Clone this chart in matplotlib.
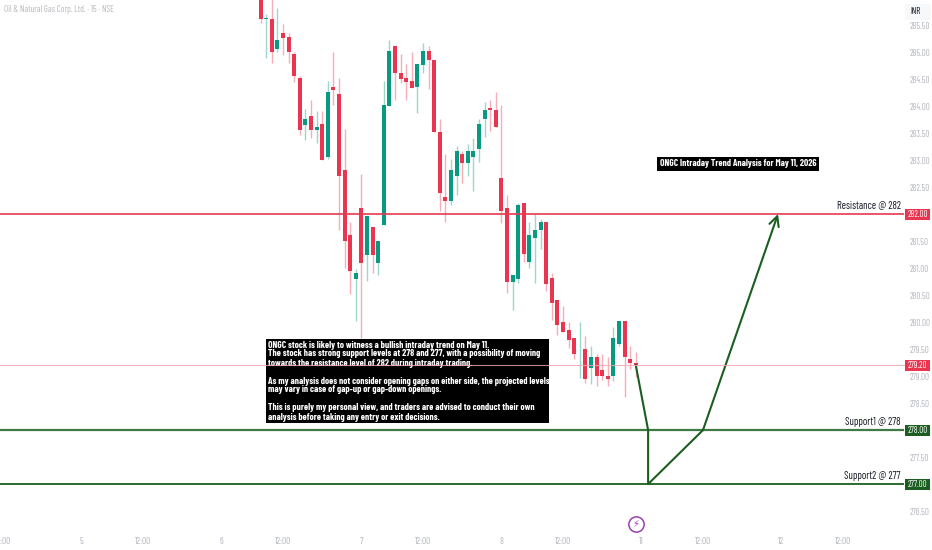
import matplotlib
matplotlib.use("Agg")
import matplotlib.pyplot as plt
from matplotlib.patches import Rectangle

plt.rcParams['font.family'] = ['Barlow Condensed', 'Roboto', 'DejaVu Sans']

opens = [286.08, 285.61, 285.62, 285.05, 285.36, 285.27, 284.97, 284.51, 283.65, 283.81,
         283.56, 283.66, 283.05, 284.36, 284.22, 282.81, 281.61, 280.80, 282.11, 281.25,
         281.76, 281.10, 281.80, 284.00, 285.11, 284.61, 284.51, 284.47, 284.35, 284.76,
         285.02, 284.86, 283.52, 282.31, 282.24, 282.71, 283.11, 282.95, 283.06, 283.21,
         283.76, 283.96, 283.92, 282.66, 282.11, 280.75, 280.80, 282.21, 281.11, 281.55,
         281.71, 281.86, 280.81, 280.40, 280.01, 279.86, 279.71, 279.46, 279.51, 279.15,
         279.36, 279.11, 279.01, 279.00, 279.60, 280.02, 279.31, 279.25]
closes = [285.62, 285.63, 285.00, 285.22, 285.26, 285.00, 284.56, 283.55, 283.76, 283.55,
          283.61, 283.00, 284.26, 284.30, 282.71, 281.50, 280.95, 280.91, 281.10, 281.96,
          281.25, 281.50, 284.01, 285.02, 284.61, 284.50, 284.45, 284.34, 284.77, 285.02,
          284.85, 283.51, 282.39, 282.24, 282.81, 283.16, 282.95, 283.17, 283.17, 283.66,
          283.92, 283.92, 283.61, 282.06, 280.75, 280.87, 282.17, 281.26, 281.61, 281.71,
          281.86, 280.71, 280.36, 279.95, 279.81, 279.66, 279.40, 279.47, 278.95, 279.36,
          279.00, 279.00, 278.95, 279.71, 280.02, 279.36, 279.25, 279.20]
highs = [286.40, 285.71, 286.10, 285.81, 285.52, 285.36, 285.00, 284.55, 283.95, 284.11,
         283.90, 283.90, 284.47, 285.00, 284.51, 283.57, 281.86, 280.99, 282.75, 281.96,
         281.76, 281.50, 284.46, 285.22, 285.11, 284.96, 284.77, 285.00, 284.77, 285.17,
         285.11, 284.86, 283.76, 283.11, 283.01, 283.26, 283.17, 283.30, 283.40, 283.76,
         284.07, 284.11, 284.26, 284.02, 282.36, 280.87, 282.20, 282.21, 281.86, 282.00,
         281.90, 281.86, 280.90, 280.40, 280.30, 280.01, 279.71, 280.01, 279.75, 279.55,
         279.41, 279.40, 279.36, 279.90, 280.02, 280.02, 279.56, 279.45]
lows = [285.53, 284.88, 284.79, 285.00, 284.94, 284.79, 284.44, 283.46, 283.38, 283.41,
        283.32, 283.00, 283.01, 284.02, 281.71, 281.00, 280.52, 280.02, 279.71, 280.76,
        280.91, 280.87, 281.80, 284.00, 284.11, 284.43, 284.11, 284.34, 283.87, 284.61,
        284.32, 283.51, 282.06, 281.86, 282.16, 282.36, 282.57, 282.71, 282.42, 282.97,
        283.42, 283.53, 283.61, 281.83, 280.53, 280.23, 280.72, 281.12, 281.00, 280.72,
        281.36, 280.57, 280.03, 279.76, 279.81, 279.52, 279.32, 278.96, 278.87, 278.86,
        278.82, 278.92, 278.82, 278.91, 279.56, 278.62, 279.13, 278.98]

# 282, 278 and 277 sit under the coloured tags
price_ticks = [276.5, 277.5, 278.5, 279.0, 279.5, 280.0, 280.5, 281.0,
               281.5, 282.5, 283.0, 283.5, 284.0, 284.5, 285.0, 285.5]
time_ticks = [-46, -32, -21, -7, 4, 18, 29, 43, 54, 68, 79, 93, 104]
time_labels = ['12:00', '5', '12:00', '6', '12:00', '7', '12:00', '8', '12:00', '11',
               '12:00', '12', '12:00']

path_x = [67, 69.2, 69.2, 79, 92.4]
path_y = [279.2, 278, 277, 278, 282]

note = ("ONGC stock is likely to witness a bullish intraday trend on May 11.\n"
        "The stock has strong support levels at 278 and 277, with a possibility of moving\n"
        "towards the resistance level of 282 during intraday trading.\n"
        "\n"
        "As my analysis does not consider opening gaps on either side, the projected levels\n"
        "may vary in case of gap-up or gap-down openings.\n"
        "\n"
        "This is purely my personal view, and traders are advised to conduct their own\n"
        "analysis before taking any entry or exit decisions.")

RED = '#ea3550'
GREEN = '#089981'
DARK = '#1b5e20'
GRAY = '#b2b5be'

W, H = 932, 550
fig = plt.figure(figsize=(W / 100, H / 100), dpi=100, facecolor='white')
ax = fig.add_axes([0, 0, 904 / W, 1])
ax.set_xlim(-46.55, 114.9)
ax.set_ylim(275.78, 285.963)
for s in ax.spines.values():
    s.set_visible(False)

ax.yaxis.tick_right()
ax.set_yticks(price_ticks, [f'{p:.2f}' for p in price_ticks])
ax.set_xticks(time_ticks, time_labels)
ax.tick_params(axis='y', length=0, pad=4, labelsize=6.4, labelcolor=GRAY)
ax.tick_params(axis='x', length=0, pad=-9.5, labelsize=6.6, labelcolor=GRAY)

for i in range(len(opens)):
    col = GREEN if closes[i] >= opens[i] else RED
    ax.vlines(i, lows[i], highs[i], color=col, lw=1, alpha=0.4, zorder=2)
    ax.bar(i, abs(closes[i] - opens[i]), 0.72, min(opens[i], closes[i]), color=col, zorder=3)

ax.axhline(282, color='#e8394f', lw=1.2, zorder=4)
ax.axhline(278, color='#3e7a45', lw=1.6, zorder=4)
ax.axhline(277, color=DARK, lw=1.3, zorder=4)


def px(x, y):
    return x / W, 1 - y / H


# note box
x0, y0 = px(266, 423)
fig.add_artist(Rectangle((x0, y0), 283 / W, 84 / H, transform=fig.transFigure,
                         facecolor='black', edgecolor='none', zorder=5))
tx, ty = px(268, 381)
fig.text(tx, ty, note, color='white', fontsize=6.8, fontweight='bold', va='center',
         ha='left', linespacing=1.0, zorder=6)

fig.text(*px(738, 164), "ONGC Intraday Trend Analysis for May 11, 2026", color='white',
         fontsize=6.8, fontweight='bold', ha='center', va='center', zorder=6,
         bbox=dict(facecolor='black', edgecolor='none', pad=2))

# faint last price line goes over the box
fig.add_artist(plt.Line2D([0, 904 / W], [1 - 364.5 / H] * 2, color='#f5a3b0', lw=0.8,
                          alpha=0.8, zorder=7))

ax.plot(path_x[:-1], path_y[:-1], color=DARK, lw=1.5, zorder=6)
ax.annotate('', xy=(path_x[-1], path_y[-1]), xytext=(path_x[-2], path_y[-2]),
            arrowprops=dict(arrowstyle='->,head_length=0.7,head_width=0.35', color=DARK,
                            lw=1.5, shrinkA=0, shrinkB=0), zorder=6)

ax.text(114.3, 282.17, 'Resistance @ 282', ha='right', va='center', fontsize=7.6, color='#131722')
ax.text(114.3, 278.15, 'Support1 @ 278', ha='right', va='center', fontsize=7.6, color='#131722')
ax.text(114.3, 277.15, 'Support2 @ 277', ha='right', va='center', fontsize=7.6, color='#131722')

# price tags on the scale
for p, c in [(282, RED), (279.2, RED), (278, DARK), (277, DARK)]:
    yy = ax.transData.transform((0, p))[1] / H
    fig.add_artist(Rectangle((905 / W, yy - 5.5 / H), 25 / W, 11 / H, transform=fig.transFigure,
                             facecolor=c, edgecolor='none', zorder=8))
    fig.text(917.5 / W, yy, f'{p:.2f}', color='white', fontsize=6.4, ha='center', va='center',
             zorder=9)

fig.add_artist(Rectangle((905 / W, 1 - 20 / H), 26 / W, 16 / H, transform=fig.transFigure,
                         facecolor='#f7f8fa', edgecolor='none', zorder=8))
fig.text(*px(915.5, 11), 'INR', color='#131722', fontsize=6.6, ha='center', va='center', zorder=9)

fig.text(*px(4, 10), 'Oil & Natural Gas Corp. Ltd. · 15 · NSE', color='#b4b7bf', fontsize=6.4,
         ha='left', va='center')

# bolt marker under the last bar
ax.plot([67], [276.26], 'o', ms=11, mfc='white', mec='#9c3fb5', mew=1.1, zorder=6)
ax.text(67, 276.26, '\u26a1', color='#9c3fb5', fontsize=7, ha='center', va='center', zorder=7,
        family='DejaVu Sans')

fig.savefig('out.png', dpi=100)
